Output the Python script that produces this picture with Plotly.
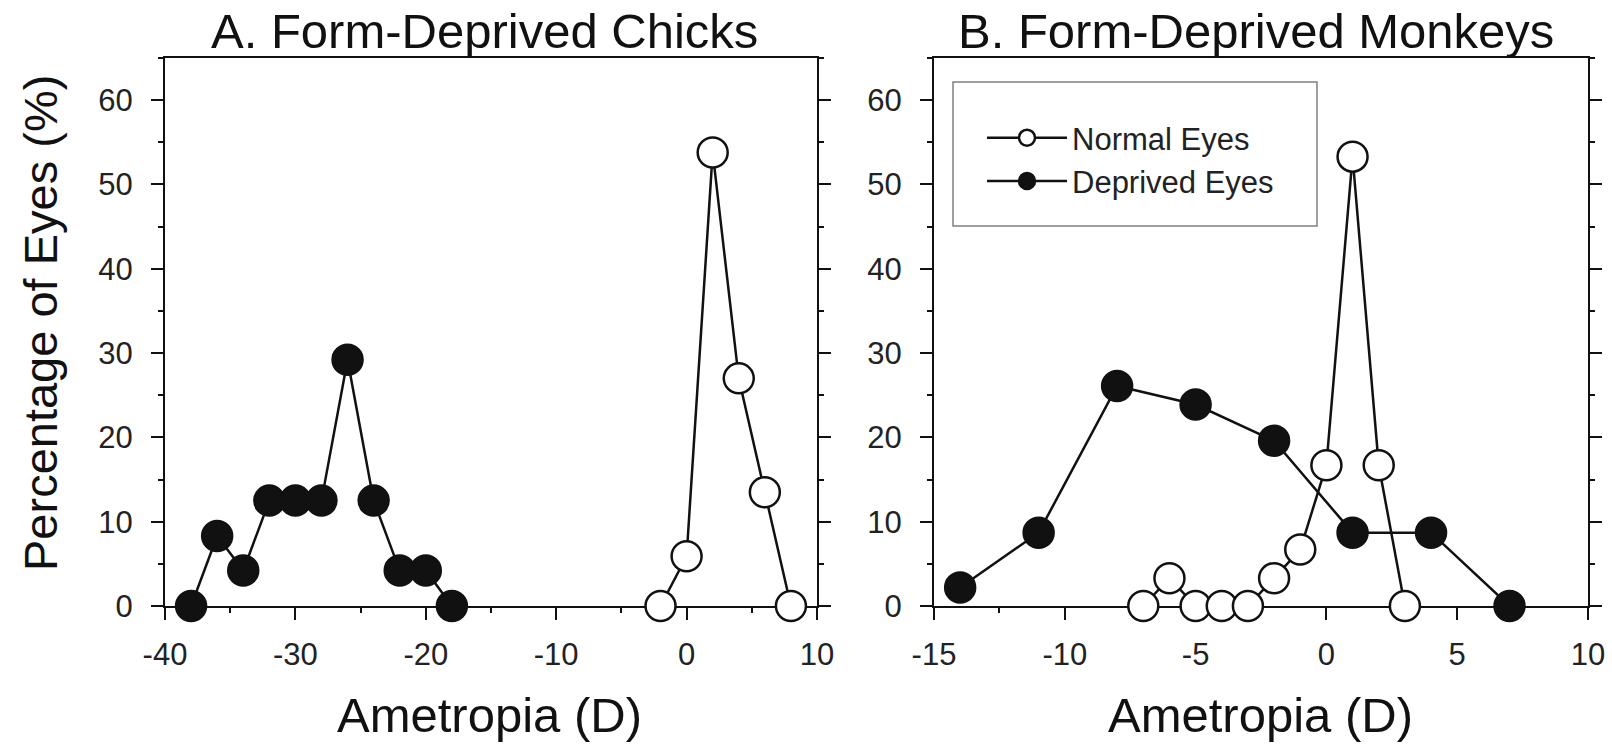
import plotly.graph_objects as go

# ---------------- data ----------------
# Panel A: form-deprived chicks
chick_dep_x = [-38, -36, -34, -32, -30, -28, -26, -24, -22, -20, -18]
chick_dep_y = [0, 8.3, 4.2, 12.5, 12.5, 12.5, 29.2, 12.5, 4.2, 4.2, 0]
chick_norm_x = [-2, 0, 2, 4, 6, 8]
chick_norm_y = [0, 5.9, 53.8, 27.0, 13.5, 0]

# Panel B: form-deprived monkeys
monk_norm_x = [-7, -6, -5, -4, -3, -2, -1, 0, 1, 2, 3]
monk_norm_y = [0, 3.3, 0, 0, 0, 3.3, 6.7, 16.7, 53.3, 16.7, 0]
monk_dep_x = [-14, -11, -8, -5, -2, 1, 4, 7]
monk_dep_y = [2.2, 8.7, 26.1, 23.9, 19.6, 8.7, 8.7, 0]

# ticks
a_xticks = [-40, -30, -20, -10, 0, 10]
b_xticks = [-15, -10, -5, 0, 5, 10]
y_ticks = [0, 10, 20, 30, 40, 50, 60]
a_xticklabels = [str(v) for v in a_xticks]
b_xticklabels = [str(v) for v in b_xticks]
y_ticklabels = [str(v) for v in y_ticks]

titles = ["A. Form-Deprived Chicks", "B. Form-Deprived Monkeys"]
x_title = "Ametropia (D)"
y_title = "Percentage of Eyes (%)"
series_names = ["Normal Eyes", "Deprived Eyes"]

# ---------------- style ----------------
W, H = 1612, 745
FONT = "Liberation Sans, Arial, Helvetica, sans-serif"
INK = "#111111"
LINE_W = 2.5
MS = 30

def px_x(p):
    return p / W

def px_y(p):
    return 1 - p / H

fig = go.Figure()

def add(x, y, filled, xa, ya, name, show):
    fig.add_trace(go.Scatter(
        x=x, y=y, mode="lines+markers", name=name, showlegend=show,
        xaxis=xa, yaxis=ya, cliponaxis=False,
        line=dict(color=INK, width=LINE_W),
        marker=dict(size=MS, symbol="circle",
                    color=INK if filled else "white",
                    line=dict(color=INK, width=2.5)),
        legendrank=1 if not filled else 2,
    ))

add(chick_dep_x, chick_dep_y, True, "x", "y", series_names[1], False)
add(chick_norm_x, chick_norm_y, False, "x", "y", series_names[0], False)
add(monk_dep_x, monk_dep_y, True, "x2", "y2", series_names[1], True)
add(monk_norm_x, monk_norm_y, False, "x2", "y2", series_names[0], True)

dom_a = [px_x(165), px_x(817)]
dom_b = [px_x(934), px_x(1588)]
dom_y = [px_y(606), px_y(58)]

tickfont = dict(family=FONT, size=31, color="#222222")

def xaxis(dom, rng, tv, tt, minor_d):
    return dict(domain=dom, range=rng, tickmode="array", tickvals=tv, ticktext=tt,
                showline=True, linecolor=INK, linewidth=2, mirror=True,
                ticks="outside", ticklen=12, tickwidth=2, tickcolor=INK,
                minor=dict(ticks="outside", ticklen=5, tickwidth=1.5, tickcolor=INK,
                           tickmode="linear", tick0=rng[0], dtick=minor_d),
                showgrid=False, zeroline=False, tickfont=tickfont, automargin=False,
                ticklabelstandoff=8, layer="below traces", fixedrange=True)

def yaxis(anchor):
    return dict(domain=dom_y, range=[0, 65], anchor=anchor, tickmode="array",
                tickvals=y_ticks, ticktext=y_ticklabels,
                showline=True, linecolor=INK, linewidth=2, mirror="allticks",
                ticks="outside", ticklen=12, tickwidth=2, tickcolor=INK,
                minor=dict(ticks="outside", ticklen=5, tickwidth=1.5, tickcolor=INK,
                           tickmode="linear", tick0=0, dtick=5),
                showgrid=False, zeroline=False, tickfont=tickfont, automargin=False,
                ticklabelstandoff=12, layer="below traces", fixedrange=True)

fig.update_layout(
    width=W, height=H,
    margin=dict(l=0, r=0, t=0, b=0, autoexpand=False),
    paper_bgcolor="white", plot_bgcolor="white",
    font=dict(family=FONT, color=INK),
    xaxis=xaxis(dom_a, [-40, 10], a_xticks, a_xticklabels, 5) | dict(anchor="y"),
    yaxis=yaxis("x"),
    xaxis2=xaxis(dom_b, [-15, 10], b_xticks, b_xticklabels, 2.5) | dict(anchor="y2"),
    yaxis2=yaxis("x2"),
    showlegend=True,
    legend=dict(x=px_x(982), y=px_y(111), xanchor="left", yanchor="top",
                bgcolor="rgba(0,0,0,0)", borderwidth=0,
                font=dict(family=FONT, size=31, color="#222222"),
                itemwidth=80, traceorder="normal"),
    shapes=[dict(type="rect", xref="paper", yref="paper",
                 x0=px_x(953), x1=px_x(1317), y0=px_y(226), y1=px_y(82),
                 line=dict(color="#808080", width=1.5), fillcolor="rgba(0,0,0,0)",
                 layer="above")],
)

ann = []
for t, cx in zip(titles, [484, 1256]):
    ann.append(dict(text=t, x=px_x(cx), y=px_y(31), xref="paper", yref="paper",
                    xanchor="center", yanchor="middle", showarrow=False,
                    font=dict(family=FONT, size=49, color=INK)))
for cx in [490, 1260]:
    ann.append(dict(text=x_title, x=px_x(cx), y=px_y(715), xref="paper", yref="paper",
                    xanchor="center", yanchor="middle", showarrow=False,
                    font=dict(family=FONT, size=49, color=INK)))
ann.append(dict(text=y_title, x=px_x(40), y=px_y(323), xref="paper", yref="paper",
                xanchor="center", yanchor="middle", showarrow=False, textangle=-90,
                font=dict(family=FONT, size=47, color=INK)))
fig.update_layout(annotations=ann)

fig.write_html("out.html")
